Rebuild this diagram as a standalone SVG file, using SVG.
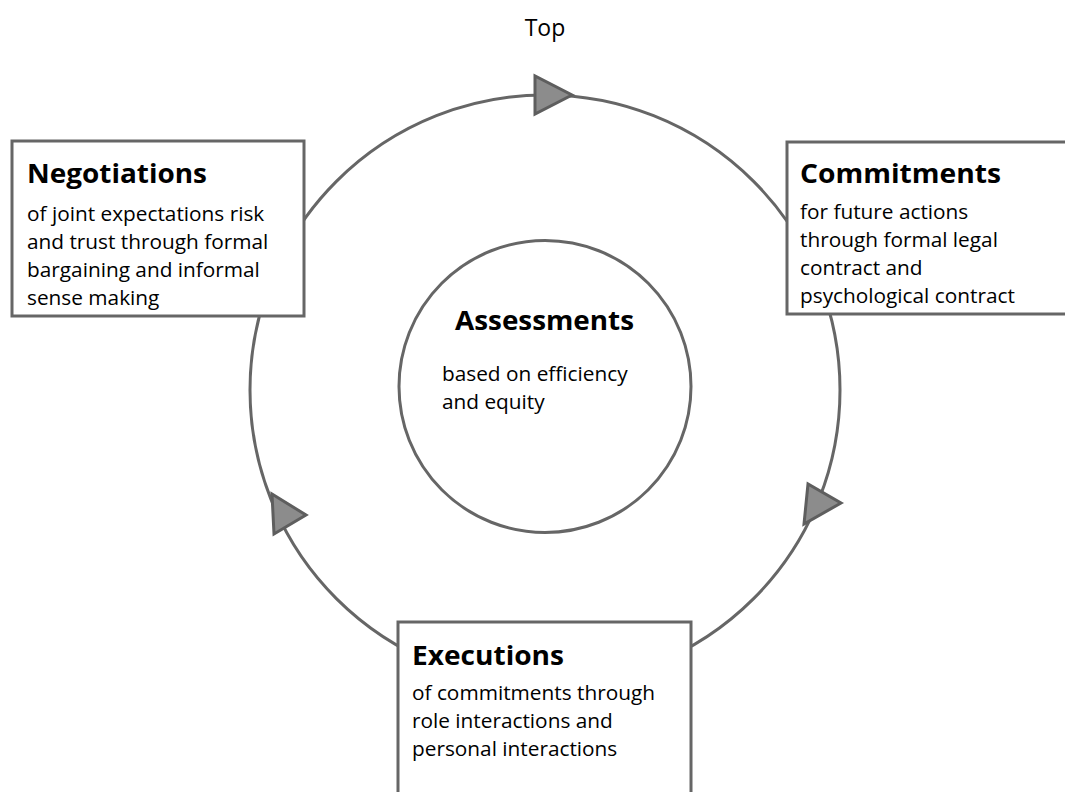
<svg xmlns="http://www.w3.org/2000/svg" width="1065" height="792" viewBox="0 0 1065 792">
<style>
.box{fill:#fff;stroke:#666;stroke-width:3}
.ring{fill:none;stroke:#666;stroke-width:3}
.arr{fill:#8c8c8c;stroke:#5e5e5e;stroke-width:3;stroke-linejoin:miter}
.t{font-family:"Open Sans","Noto Sans",sans-serif;font-weight:700;font-size:27px;fill:#000}
.b{font-family:"Open Sans","Noto Sans",sans-serif;font-size:20.8px;fill:#000}
.top{font-family:"Open Sans","Noto Sans",sans-serif;font-size:23px;fill:#000}
</style>
<rect width="1065" height="792" fill="#fff"/>
<text class="top" x="545" y="36" text-anchor="middle">Top</text>
<g id="connectors">
<circle class="ring" cx="545" cy="390" r="295"/>
<polygon class="arr" points="535,76 535,114 572,95"/>
<polygon class="arr" points="808,484 804,524 841,503"/>
<polygon class="arr" points="272,494 274,534 306,515"/>
</g>
<g id="assessments">
<circle class="box" cx="545" cy="386.5" r="146"/>
<text class="t" x="455" y="330" textLength="179" lengthAdjust="spacingAndGlyphs">Assessments</text>
<text class="b" x="442" y="381">based on efficiency</text>
<text class="b" x="442" y="409">and equity</text>
</g>
<g id="negotiations">
<rect class="box" x="12" y="141" width="292" height="175"/>
<text class="t" x="27" y="183" textLength="180" lengthAdjust="spacingAndGlyphs">Negotiations</text>
<text class="b" x="27" y="221">of joint expectations risk</text>
<text class="b" x="27" y="249">and trust through formal</text>
<text class="b" x="27" y="277">bargaining and informal</text>
<text class="b" x="27" y="305">sense making</text>
</g>
<g id="commitments">
<rect class="box" x="787" y="142" width="290" height="172"/>
<text class="t" x="800" y="183" textLength="201" lengthAdjust="spacingAndGlyphs">Commitments</text>
<text class="b" x="800" y="219">for future actions</text>
<text class="b" x="800" y="247">through formal legal</text>
<text class="b" x="800" y="275">contract and</text>
<text class="b" x="800" y="303">psychological contract</text>
</g>
<g id="executions">
<rect class="box" x="398" y="622" width="293" height="190"/>
<text class="t" x="412" y="665" textLength="152" lengthAdjust="spacingAndGlyphs">Executions</text>
<text class="b" x="412" y="700">of commitments through</text>
<text class="b" x="412" y="728">role interactions and</text>
<text class="b" x="412" y="756">personal interactions</text>
</g>
</svg>
